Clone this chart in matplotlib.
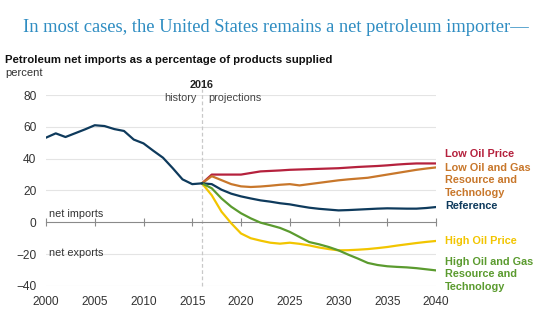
import numpy as np
import matplotlib.pyplot as plt

# history (reference case)
hist_years = list(range(2000, 2017))
hist_vals = [53.2, 55.9, 53.6, 56, 58.4, 61, 60.5, 58.6, 57.4, 52, 49.6, 45, 40.6, 34, 27, 24, 24.5]

# projections
proj_years = [2016, 2017, 2018, 2019, 2020, 2021, 2022, 2023, 2024, 2025, 2026, 2027, 2028,
              2029, 2030, 2031, 2032, 2033, 2034, 2035, 2036, 2037, 2038, 2039, 2040]
low_oil_price = [24.5, 30, 30, 30, 30, 31, 32, 32.3, 32.6, 33, 33.2, 33.4, 33.6,
                 33.8, 34, 34.4, 34.8, 35.1, 35.4, 35.8, 36.3, 36.7, 37, 37, 37]
low_oil_gas = [24.5, 29, 26.5, 24, 22.6, 22.2, 22.5, 23, 23.6, 24, 23.2, 24, 24.8,
               25.6, 26.4, 27, 27.5, 28, 29, 30, 31, 32, 33, 33.8, 34.5]
reference = [24.5, 24, 20.5, 18, 16.3, 15, 13.8, 13, 12, 11.3, 10.2, 9.2, 8.5,
             8, 7.5, 7.7, 8, 8.3, 8.6, 8.8, 8.7, 8.6, 8.6, 9, 9.6]
high_oil_price = [24.5, 17, 6.7, -0.6, -7, -10, -11.5, -12.8, -13.4, -12.8, -13.5, -14.5, -15.8,
                  -16.8, -17.6, -17.5, -17.2, -16.8, -16.2, -15.5, -14.6, -13.8, -13, -12.3, -11.7]
high_oil_gas = [24.5, 21.4, 15, 9.8, 5.7, 2.5, -0.2, -1.8, -3.5, -6, -9.2, -12.4, -13.8,
                -15.5, -17.6, -20.3, -22.8, -25.5, -26.8, -27.6, -28, -28.3, -28.8, -29.5, -30.2]

series = [
    ("Low Oil Price", low_oil_price, "#b5213d", 42.8),
    ("Low Oil and Gas\nResource and\nTechnology", low_oil_gas, "#c8772b", 26.4),
    ("Reference", reference, "#0e3a5c", 10),
    ("High Oil Price", high_oil_price, "#f2c500", -12),
    ("High Oil and Gas\nResource and\nTechnology", high_oil_gas, "#5b9b2f", -32.7),
]

plt.rcParams['font.family'] = ['Liberation Sans', 'DejaVu Sans']

fig = plt.figure(figsize=(5.5, 3.21), dpi=100)
ax = fig.add_axes([46 / 550, 1 - 286 / 321, 390 / 550, 191 / 321])

ax.set_xlim(2000, 2040)
ax.set_ylim(-40, 80)
ax.set_yticks([-40, -20, 0, 20, 40, 60, 80])
ax.set_xticks(range(2000, 2041, 5))
for yv in [-40, -20, 20, 40, 60, 80]:
    ax.axhline(yv, color="#e4e4e4", lw=0.8, zorder=0)

for s in ['top', 'right', 'left']:
    ax.spines[s].set_visible(False)
ax.spines['bottom'].set_position(('data', 0))
ax.spines['bottom'].set_color("#8a8a8a")
ax.tick_params(axis='x', direction='inout', length=6, color="#8a8a8a", pad=50,
               labelsize=8.6, labelcolor="#333333")
ax.tick_params(axis='y', length=0, pad=7, labelsize=8.6, labelcolor="#333333")

ax.axvline(2016, color="#c8c8c8", lw=0.9, ls=(0, (3, 2)), ymax=1.03, clip_on=False, zorder=1)

# projection lines, history drawn last so it sits on top
for name, vals, col, ly in series:
    ax.plot(proj_years, vals, color=col, lw=1.6, zorder=3)
    ax.text(2040.9, ly, name, color=col, fontsize=7.8, fontweight='bold',
            va='center', ha='left', linespacing=1.35)
ax.plot(hist_years, hist_vals, color="#0e3a5c", lw=1.6, zorder=4)

ax.text(2016, 86.5, "2016", fontsize=7.8, fontweight='bold', ha='center', va='center', color="#222222")
ax.text(2015.4, 78, "history", fontsize=7.8, ha='right', va='center', color="#444444")
ax.text(2016.6, 78, "projections", fontsize=7.8, ha='left', va='center', color="#444444")
ax.text(2000.3, 5.5, "net imports", fontsize=7.8, ha='left', va='center', color="#333333")
ax.text(2000.3, -19, "net exports", fontsize=7.8, ha='left', va='center', color="#333333")

fig.text(23 / 550, 1 - 28 / 321, "In most cases, the United States remains a net petroleum importer\u2014",
         family='Liberation Serif', fontsize=13.3, color="#2f8dc2", ha='left', va='center')
fig.text(5 / 550, 1 - 60 / 321, "Petroleum net imports as a percentage of products supplied",
         fontsize=8.2, fontweight='bold', ha='left', va='center', color="#111111")
fig.text(5 / 550, 1 - 73 / 321, "percent", fontsize=8, ha='left', va='center', color="#333333")

fig.savefig("out.png", dpi=100)
